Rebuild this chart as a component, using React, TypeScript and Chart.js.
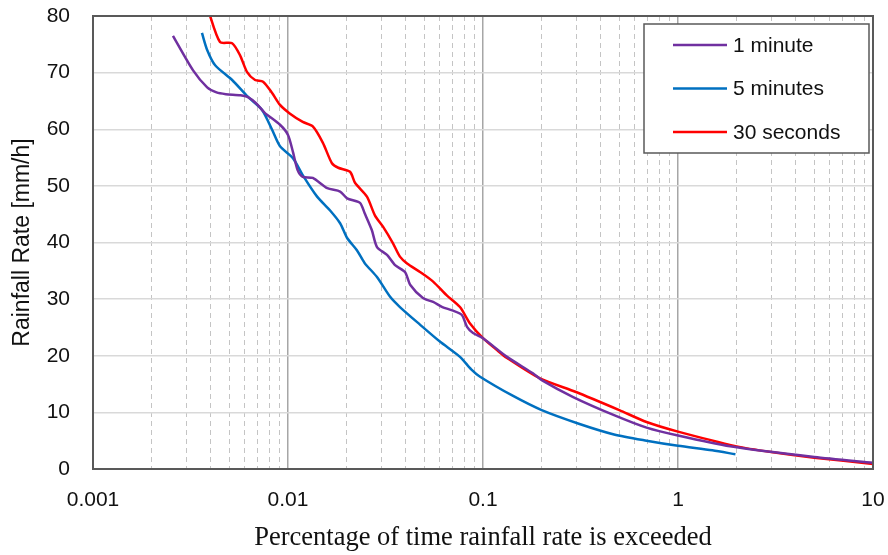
import { useEffect, useRef } from "react";
import { Chart, registerables } from "chart.js";

Chart.register(...registerables);

// ---- data ----
const oneMinuteX = [0.00257, 0.00326, 0.00385, 0.0043, 0.0048, 0.0057, 0.0062, 0.0069, 0.0076, 0.0091, 0.01, 0.0106, 0.0112, 0.0119, 0.0134, 0.0159, 0.0185, 0.0201, 0.0234, 0.0247, 0.0269, 0.0286, 0.0322, 0.0354, 0.0398, 0.0424, 0.0492, 0.0555, 0.0619, 0.0696, 0.0779, 0.0828, 0.0889, 0.1, 0.1328, 0.1803, 0.2, 0.29, 0.47, 0.69, 1.0, 1.85, 5, 10];
const oneMinuteY = [76.5, 70.4, 67.4, 66.5, 66.2, 66.0, 65.7, 64.5, 62.9, 60.8, 59.0, 56.0, 52.8, 51.6, 51.4, 49.6, 49.0, 47.8, 47.0, 45.2, 42.2, 39.2, 37.8, 36.0, 34.8, 32.5, 30.2, 29.5, 28.6, 28.0, 27.2, 25.1, 24.0, 23.1, 19.8, 16.9, 15.7, 12.7, 9.5, 7.3, 5.9, 4.0, 2.1, 1.1];

const fiveMinutesX = [0.00362, 0.00385, 0.00423, 0.00517, 0.00624, 0.00736, 0.00829, 0.0091, 0.0106, 0.0119, 0.0141, 0.0164, 0.0185, 0.0201, 0.0226, 0.0247, 0.0286, 0.0334, 0.0375, 0.0475, 0.0601, 0.0762, 0.087, 0.0966, 0.1427, 0.2, 0.31, 0.47, 0.69, 1.0, 1.5, 1.97];
const fiveMinutesY = [77.0, 74.0, 71.3, 68.7, 65.7, 63.4, 59.9, 57.0, 54.9, 51.9, 48.1, 45.7, 43.4, 40.8, 38.6, 36.4, 33.9, 30.4, 28.6, 25.5, 22.5, 19.8, 17.6, 16.3, 12.9, 10.4, 8.0, 6.1, 5.0, 4.1, 3.3, 2.6];

const thirtySecondsX = [0.0039, 0.00448, 0.00517, 0.00567, 0.00617, 0.00678, 0.00745, 0.00829, 0.0091, 0.0102, 0.0119, 0.0134, 0.0151, 0.0168, 0.0181, 0.0208, 0.0221, 0.0254, 0.0279, 0.0307, 0.0345, 0.0375, 0.0408, 0.0475, 0.0555, 0.065, 0.0762, 0.0858, 0.1, 0.118, 0.1328, 0.196, 0.3, 0.5, 0.69, 1.0, 2.0, 3.0, 5.0, 10];
const thirtySecondsY = [81, 75.4, 75.2, 73.1, 70.1, 68.7, 68.4, 66.4, 64.3, 62.8, 61.3, 60.5, 57.6, 54.0, 53.2, 52.5, 50.5, 48.1, 44.8, 42.8, 39.9, 37.5, 36.3, 34.8, 33.1, 30.7, 28.6, 25.7, 23.1, 21.0, 19.6, 16.0, 13.6, 10.4, 8.3, 6.6, 4.0, 3.0, 2.0, 0.9];

const seriesLabels = ["1 minute", "5 minutes", "30 seconds"];
const seriesColors = ["#7030A0", "#0070C0", "#FF0000"];

const majorXTicks = [0.001, 0.01, 0.1, 1, 10];
const minorXTicks = [0.002, 0.003, 0.004, 0.005, 0.006, 0.007, 0.008, 0.009, 0.02, 0.03, 0.04, 0.05, 0.06, 0.07, 0.08, 0.09, 0.2, 0.3, 0.4, 0.5, 0.6, 0.7, 0.8, 0.9, 2, 3, 4, 5, 6, 7, 8, 9];
const yTickValues = [0, 10, 20, 30, 40, 50, 60, 70, 80];

const toPoints = (xs: number[], ys: number[]) => xs.map((x, i) => ({ x, y: ys[i] }));

const SANS = "'Liberation Sans', Arial, sans-serif";
const SERIF = "'Liberation Serif', 'Times New Roman', serif";

const frameAndLegend = {
  id: "frameAndLegend",
  afterDatasetsDraw(chart: any) {
    const { ctx, chartArea: a } = chart;
    ctx.save();
    ctx.strokeStyle = "#595959";
    ctx.lineWidth = 2;
    ctx.strokeRect(a.left, a.top, a.right - a.left, a.bottom - a.top);
    ctx.restore();
  },
  afterDraw(chart: any) {
    const { ctx, chartArea: a } = chart;
    const boxRight = a.right - 4;
    const boxLeft = boxRight - 225;
    const boxTop = a.top + 8;
    const boxH = 129;
    ctx.save();
    ctx.fillStyle = "#ffffff";
    ctx.fillRect(boxLeft, boxTop, boxRight - boxLeft, boxH);
    ctx.strokeStyle = "#595959";
    ctx.lineWidth = 1.5;
    ctx.strokeRect(boxLeft, boxTop, boxRight - boxLeft, boxH);
    ctx.font = `21px ${SANS}`;
    ctx.textBaseline = "middle";
    ctx.textAlign = "left";
    chart.data.datasets.forEach((ds: any, i: number) => {
      const y = boxTop + 21 + i * 43.5;
      ctx.strokeStyle = ds.borderColor;
      ctx.lineWidth = 2.5;
      ctx.beginPath();
      ctx.moveTo(boxLeft + 29, y);
      ctx.lineTo(boxLeft + 83, y);
      ctx.stroke();
      ctx.fillStyle = "#111111";
      ctx.fillText(ds.label, boxLeft + 89, y + 1);
    });
    ctx.restore();
  },
};

const noScalePadding = (s: any) => {
  s.paddingTop = 0;
  s.paddingBottom = 0;
  s.paddingLeft = 0;
  s.paddingRight = 0;
};

export default function App() {
  const ref = useRef<HTMLCanvasElement>(null);
  useEffect(() => {
    document.body.style.margin = "0";
    const xsList = [oneMinuteX, fiveMinutesX, thirtySecondsX];
    const ysList = [oneMinuteY, fiveMinutesY, thirtySecondsY];
    const chart = new Chart(ref.current as HTMLCanvasElement, {
      type: "line",
      data: {
        datasets: seriesLabels.map((label, i) => ({
          label,
          data: toPoints(xsList[i], ysList[i]),
          borderColor: seriesColors[i],
          backgroundColor: seriesColors[i],
          borderWidth: 2.5,
          pointRadius: 0,
          tension: 0.25,
          fill: false,
        })),
      },
      options: {
        animation: false,
        responsive: false,
        devicePixelRatio: 1,
        layout: { padding: { top: 16, right: 15, left: 0, bottom: 0 } },
        plugins: { legend: { display: false }, tooltip: { enabled: false } },
        scales: {
          x: {
            type: "logarithmic",
            position: "bottom",
            min: 0.001,
            max: 10,
            afterBuildTicks: (s: any) => {
              s.ticks = majorXTicks.map((v) => ({ value: v }));
            },
            afterFit: (s: any) => {
              s.height = 86;
              noScalePadding(s);
            },
            ticks: {
              autoSkip: false,
              maxRotation: 0,
              padding: 19,
              color: "#111111",
              font: { family: SANS, size: 21 },
              callback: (v: any) => String(v),
            },
            grid: { color: "#a6a6a6", lineWidth: 1.5, drawTicks: false },
            border: { display: false },
            title: {
              display: true,
              text: "Percentage of time rainfall rate is exceeded",
              color: "#111111",
              font: { family: SERIF, size: 26.5 },
              padding: { top: 0, bottom: 1 },
            },
          },
          x2: {
            type: "logarithmic",
            position: "bottom",
            min: 0.001,
            max: 10,
            afterBuildTicks: (s: any) => {
              s.ticks = minorXTicks.map((v) => ({ value: v }));
            },
            afterFit: (s: any) => {
              s.height = 0;
              noScalePadding(s);
            },
            ticks: { display: false },
            grid: { color: "#c4c4c4", lineWidth: 1, drawTicks: false },
            border: { display: false, dash: [5, 4] },
          },
          y: {
            type: "linear",
            min: 0,
            max: 80,
            afterBuildTicks: (s: any) => {
              s.ticks = yTickValues.map((v) => ({ value: v }));
            },
            afterFit: (s: any) => {
              s.width = 93;
              noScalePadding(s);
            },
            ticks: {
              padding: 23,
              color: "#111111",
              font: { family: SANS, size: 21 },
            },
            grid: { color: "#d9d9d9", lineWidth: 1.5, drawTicks: false },
            border: { display: false },
            title: {
              display: true,
              text: "Rainfall Rate [mm/h]",
              color: "#111111",
              font: { family: SANS, size: 23 },
              padding: { top: 9, bottom: 0 },
            },
          },
        },
      } as any,
      plugins: [frameAndLegend],
    });
    return () => chart.destroy();
  }, []);
  return (
    <div style={{ width: 888, height: 555 }}>
      <canvas ref={ref} width={888} height={555} style={{ display: "block" }} />
    </div>
  );
}
